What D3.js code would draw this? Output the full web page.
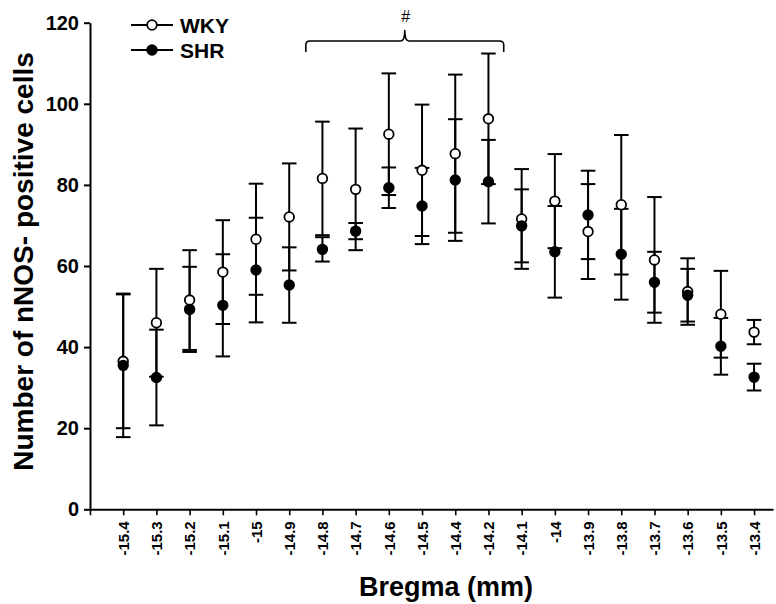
<!DOCTYPE html>
<html>
<head>
<meta charset="utf-8">
<script src="https://cdn.jsdelivr.net/npm/d3@7"></script>
<style>
  body { margin: 0; background: #fff; }
  svg { display: block; font-family: "Liberation Sans", Arial, sans-serif; }
</style>
</head>
<body>
<svg width="776" height="604"></svg>
<script>
// Bregma positions (mm), -14.3 is not sampled
const bregma = ["-15.4", "-15.3", "-15.2", "-15.1", "-15", "-14.9", "-14.8", "-14.7", "-14.6", "-14.5",
                "-14.4", "-14.2", "-14.1", "-14", "-13.9", "-13.8", "-13.7", "-13.6", "-13.5", "-13.4"];

// mean and error (+/-) per group
const wkyMean = [36.5, 46.0, 51.6, 58.5, 66.6, 72.1, 81.6, 78.9, 92.5, 83.6, 87.7, 96.3, 71.6, 76.0, 68.5, 75.1, 61.5, 53.7, 48.1, 43.7];
const wkyErr  = [16.5, 13.3, 12.3, 12.8, 13.7, 13.2, 14.0, 15.0, 15.0, 16.2, 19.5, 16.1, 12.3, 11.6, 11.7, 17.2, 15.5, 8.2, 10.7, 3.0];
const shrMean = [35.5, 32.5, 49.3, 50.3, 59.0, 55.3, 64.1, 68.6, 79.3, 74.8, 81.2, 80.8, 69.9, 63.5, 72.6, 62.9, 56.0, 52.8, 40.2, 32.6];
const shrErr  = [17.7, 11.8, 10.5, 12.6, 12.9, 9.3, 3.0, 2.0, 5.0, 9.4, 15.0, 10.3, 9.0, 11.3, 10.9, 11.2, 7.5, 6.5, 7.0, 3.3];

const yTicks = [0, 20, 40, 60, 80, 100, 120];

// bracket marking the significant range (#)
const bracketFrom = "-14.8";
const bracketTo = "-14.2";

const svg = d3.select("svg");

var margin = { left: 90, right: 773, top: 22.7, bottom: 509.3 };

// x is an index scale: -1 sits on the y axis, categories at 0..19
var x = d3.scaleLinear()
    .domain([-1, 19.57])
    .range([margin.left, margin.right]);

var y = d3.scaleLinear()
    .domain([0, 120])
    .range([margin.bottom, margin.top]);

// axes
var yAxis = d3.axisLeft(y)
    .tickValues(yTicks)
    .tickSize(6)
    .tickPadding(5)
    .tickSizeOuter(0);

var xAxis = d3.axisBottom(x)
    .tickValues(d3.range(-1, bregma.length))
    .tickFormat(i => i < 0 ? "" : bregma[i])
    .tickSize(6)
    .tickSizeOuter(0);

var gy = svg.append("g")
    .attr("transform", "translate(" + [margin.left, 0] + ")")
    .call(yAxis);
gy.select(".domain").attr("stroke-width", 2);
gy.selectAll(".tick line").attr("stroke-width", 2);
gy.selectAll(".tick text")
    .attr("font-size", 20)
    .attr("font-weight", "bold")
    .attr("font-family", "Liberation Sans, Arial, sans-serif")
    .attr("fill", "#000");

var gx = svg.append("g")
    .attr("transform", "translate(" + [0, margin.bottom] + ")")
    .call(xAxis);
gx.select(".domain").attr("stroke-width", 2);
gx.selectAll(".tick line").attr("stroke-width", 1.6);
gx.selectAll(".tick text")
    .attr("font-size", 15)
    .attr("font-weight", "bold")
    .attr("font-family", "Liberation Sans, Arial, sans-serif")
    .attr("fill", "#000")
    .attr("text-anchor", "end")
    .attr("transform", "rotate(-90)")
    .attr("x", -12)
    .attr("y", 0)
    .attr("dy", "0.35em");

// error bars and symbols
const groups = [
    { name: "WKY", mean: wkyMean, err: wkyErr, fill: "#fff" },
    { name: "SHR", mean: shrMean, err: shrErr, fill: "#000" }
];
const capHalf = 7.3;

groups.forEach(g => {
    var bars = svg.append("g")
        .attr("stroke", "#000")
        .attr("stroke-width", 2)
        .selectAll("g")
        .data(g.mean.map((m, i) => ({ i: i, m: m, e: g.err[i] })))
        .enter().append("g");

    bars.append("line")
        .attr("x1", d => x(d.i)).attr("x2", d => x(d.i))
        .attr("y1", d => y(d.m + d.e)).attr("y2", d => y(d.m - d.e));
    bars.append("line")
        .attr("x1", d => x(d.i) - capHalf).attr("x2", d => x(d.i) + capHalf)
        .attr("y1", d => y(d.m + d.e)).attr("y2", d => y(d.m + d.e));
    bars.append("line")
        .attr("x1", d => x(d.i) - capHalf).attr("x2", d => x(d.i) + capHalf)
        .attr("y1", d => y(d.m - d.e)).attr("y2", d => y(d.m - d.e));
});

groups.forEach(g => {
    svg.append("g")
        .selectAll("circle")
        .data(g.mean)
        .enter().append("circle")
        .attr("cx", (d, i) => x(i))
        .attr("cy", d => y(d))
        .attr("r", 4.8)
        .attr("fill", g.fill)
        .attr("stroke", "#000")
        .attr("stroke-width", 1.8);
});

// bracket with #
var bx0 = x(bregma.indexOf(bracketFrom) - 0.5);
var bx1 = x(bregma.indexOf(bracketTo) + 0.46);
var bxm = (bx0 + bx1) / 2;
var byLine = 41, byLeg = 52, byTip = 30, rr = 4;
var bracketPath = d3.path();
bracketPath.moveTo(bx0, byLeg);
bracketPath.lineTo(bx0, byLine + rr);
bracketPath.quadraticCurveTo(bx0, byLine, bx0 + rr, byLine);
bracketPath.lineTo(bxm - rr, byLine);
bracketPath.quadraticCurveTo(bxm, byLine, bxm, byTip);
bracketPath.quadraticCurveTo(bxm, byLine, bxm + rr, byLine);
bracketPath.lineTo(bx1 - rr, byLine);
bracketPath.quadraticCurveTo(bx1, byLine, bx1, byLine + rr);
bracketPath.lineTo(bx1, byLeg);

svg.append("path")
    .attr("d", bracketPath.toString())
    .attr("fill", "none")
    .attr("stroke", "#000")
    .attr("stroke-width", 1.6);

svg.append("text")
    .attr("x", bxm + 1)
    .attr("y", 22)
    .attr("text-anchor", "middle")
    .attr("font-size", 16)
    .text("#");

// legend
var legend = svg.append("g")
    .selectAll("g")
    .data(groups)
    .enter().append("g")
    .attr("transform", (d, i) => "translate(" + [131, 25 + i * 25] + ")");

legend.append("line")
    .attr("x1", 0).attr("x2", 42)
    .attr("stroke", "#000")
    .attr("stroke-width", 2);
legend.append("circle")
    .attr("cx", 21)
    .attr("r", 4.8)
    .attr("fill", d => d.fill)
    .attr("stroke", "#000")
    .attr("stroke-width", 1.8);
legend.append("text")
    .attr("x", 49)
    .attr("dy", "0.36em")
    .attr("font-size", 21)
    .attr("font-weight", "bold")
    .text(d => d.name);

// axis titles
svg.append("text")
    .attr("x", 446)
    .attr("y", 596)
    .attr("text-anchor", "middle")
    .attr("font-size", 27)
    .attr("font-weight", "bold")
    .text("Bregma (mm)");

svg.append("text")
    .attr("transform", "translate(" + [33, 261.5] + ") rotate(-90)")
    .attr("text-anchor", "middle")
    .attr("font-size", 28)
    .attr("font-weight", "bold")
    .text("Number of nNOS- positive cells");
</script>
</body>
</html>
